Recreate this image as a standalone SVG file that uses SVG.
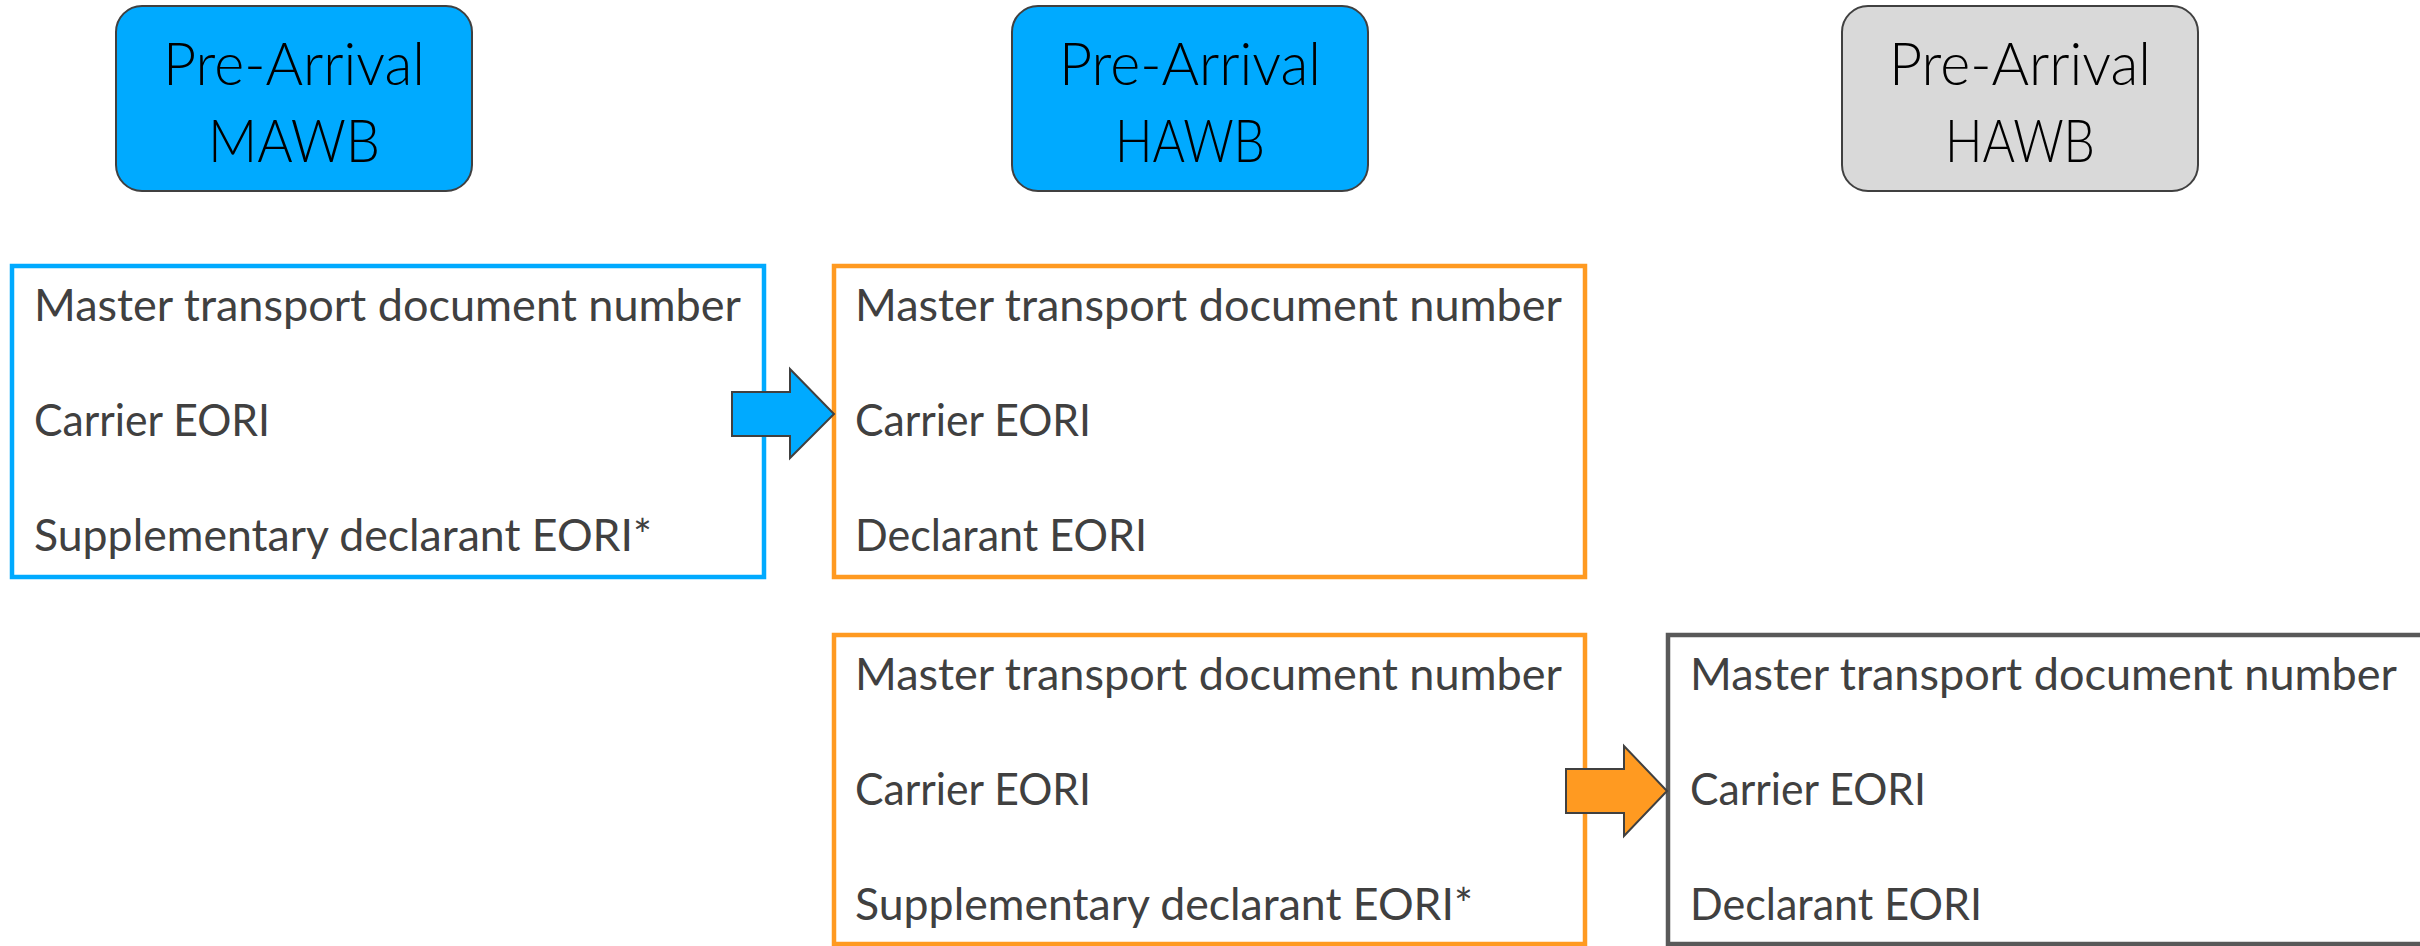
<svg xmlns="http://www.w3.org/2000/svg" width="2420" height="946" viewBox="0 0 2420 946">
<style>
.hdr{stroke:#404040;stroke-width:2}
.htxt{font-family:Lato,"Open Sans","Liberation Sans",sans-serif;font-weight:300;font-size:60px;fill:#000;text-anchor:middle}
.btxt{font-family:Lato,"Open Sans","Liberation Sans",sans-serif;font-size:45px;fill:#404040}
.panel{fill:#fff;stroke-width:4.5}
.arrow{stroke:#404040;stroke-width:2;stroke-linejoin:miter}
</style>
<rect width="2420" height="946" fill="#fff"/>
<g id="hdr-mawb">
<rect class="hdr" x="116" y="6" width="356" height="185" rx="26" fill="#00AAFF"/>
<text class="htxt" x="294" y="85" textLength="262" lengthAdjust="spacingAndGlyphs">Pre-Arrival</text>
<text class="htxt" x="294" y="162" textLength="172" lengthAdjust="spacingAndGlyphs">MAWB</text>
</g>
<g id="hdr-hawb1">
<rect class="hdr" x="1012" y="6" width="356" height="185" rx="26" fill="#00AAFF"/>
<text class="htxt" x="1190" y="85" textLength="262" lengthAdjust="spacingAndGlyphs">Pre-Arrival</text>
<text class="htxt" x="1190" y="162" textLength="150" lengthAdjust="spacingAndGlyphs">HAWB</text>
</g>
<g id="hdr-hawb2">
<rect class="hdr" x="1842" y="6" width="356" height="185" rx="26" fill="#D9D9D9"/>
<text class="htxt" x="2020" y="85" textLength="262" lengthAdjust="spacingAndGlyphs">Pre-Arrival</text>
<text class="htxt" x="2020" y="162" textLength="150" lengthAdjust="spacingAndGlyphs">HAWB</text>
</g>
<g id="panel-mawb">
<rect class="panel" x="12" y="266" width="752" height="311" stroke="#00AAFF"/>
<text class="btxt" x="34" y="321" textLength="707" lengthAdjust="spacingAndGlyphs">Master transport document number</text>
<text class="btxt" x="34" y="436" textLength="236" lengthAdjust="spacingAndGlyphs">Carrier EORI</text>
<text class="btxt" x="34" y="551" textLength="618" lengthAdjust="spacingAndGlyphs">Supplementary declarant EORI*</text>
</g>
<g id="panel-hawb-top">
<rect class="panel" x="834" y="266" width="751" height="311" stroke="#FF9A21"/>
<text class="btxt" x="855" y="321" textLength="707" lengthAdjust="spacingAndGlyphs">Master transport document number</text>
<text class="btxt" x="855" y="436" textLength="236" lengthAdjust="spacingAndGlyphs">Carrier EORI</text>
<text class="btxt" x="855" y="551" textLength="292" lengthAdjust="spacingAndGlyphs">Declarant EORI</text>
</g>
<g id="panel-hawb-bottom">
<rect class="panel" x="834" y="635" width="751" height="309" stroke="#FF9A21"/>
<text class="btxt" x="855" y="690" textLength="707" lengthAdjust="spacingAndGlyphs">Master transport document number</text>
<text class="btxt" x="855" y="805" textLength="236" lengthAdjust="spacingAndGlyphs">Carrier EORI</text>
<text class="btxt" x="855" y="920" textLength="618" lengthAdjust="spacingAndGlyphs">Supplementary declarant EORI*</text>
</g>
<g id="panel-hawb-grey">
<rect class="panel" x="1668" y="635" width="780" height="309" stroke="#595959"/>
<text class="btxt" x="1690" y="690" textLength="707" lengthAdjust="spacingAndGlyphs">Master transport document number</text>
<text class="btxt" x="1690" y="805" textLength="236" lengthAdjust="spacingAndGlyphs">Carrier EORI</text>
<text class="btxt" x="1690" y="920" textLength="292" lengthAdjust="spacingAndGlyphs">Declarant EORI</text>
</g>
<g id="connectors">
<polygon class="arrow" fill="#00AAFF" points="732,392 790,392 790,369 834,414 790,458 790,436 732,436"/>
<polygon class="arrow" fill="#FF9A21" points="1566,769 1624,769 1624,746 1667,791 1624,836 1624,813 1566,813"/>
</g>
</svg>
